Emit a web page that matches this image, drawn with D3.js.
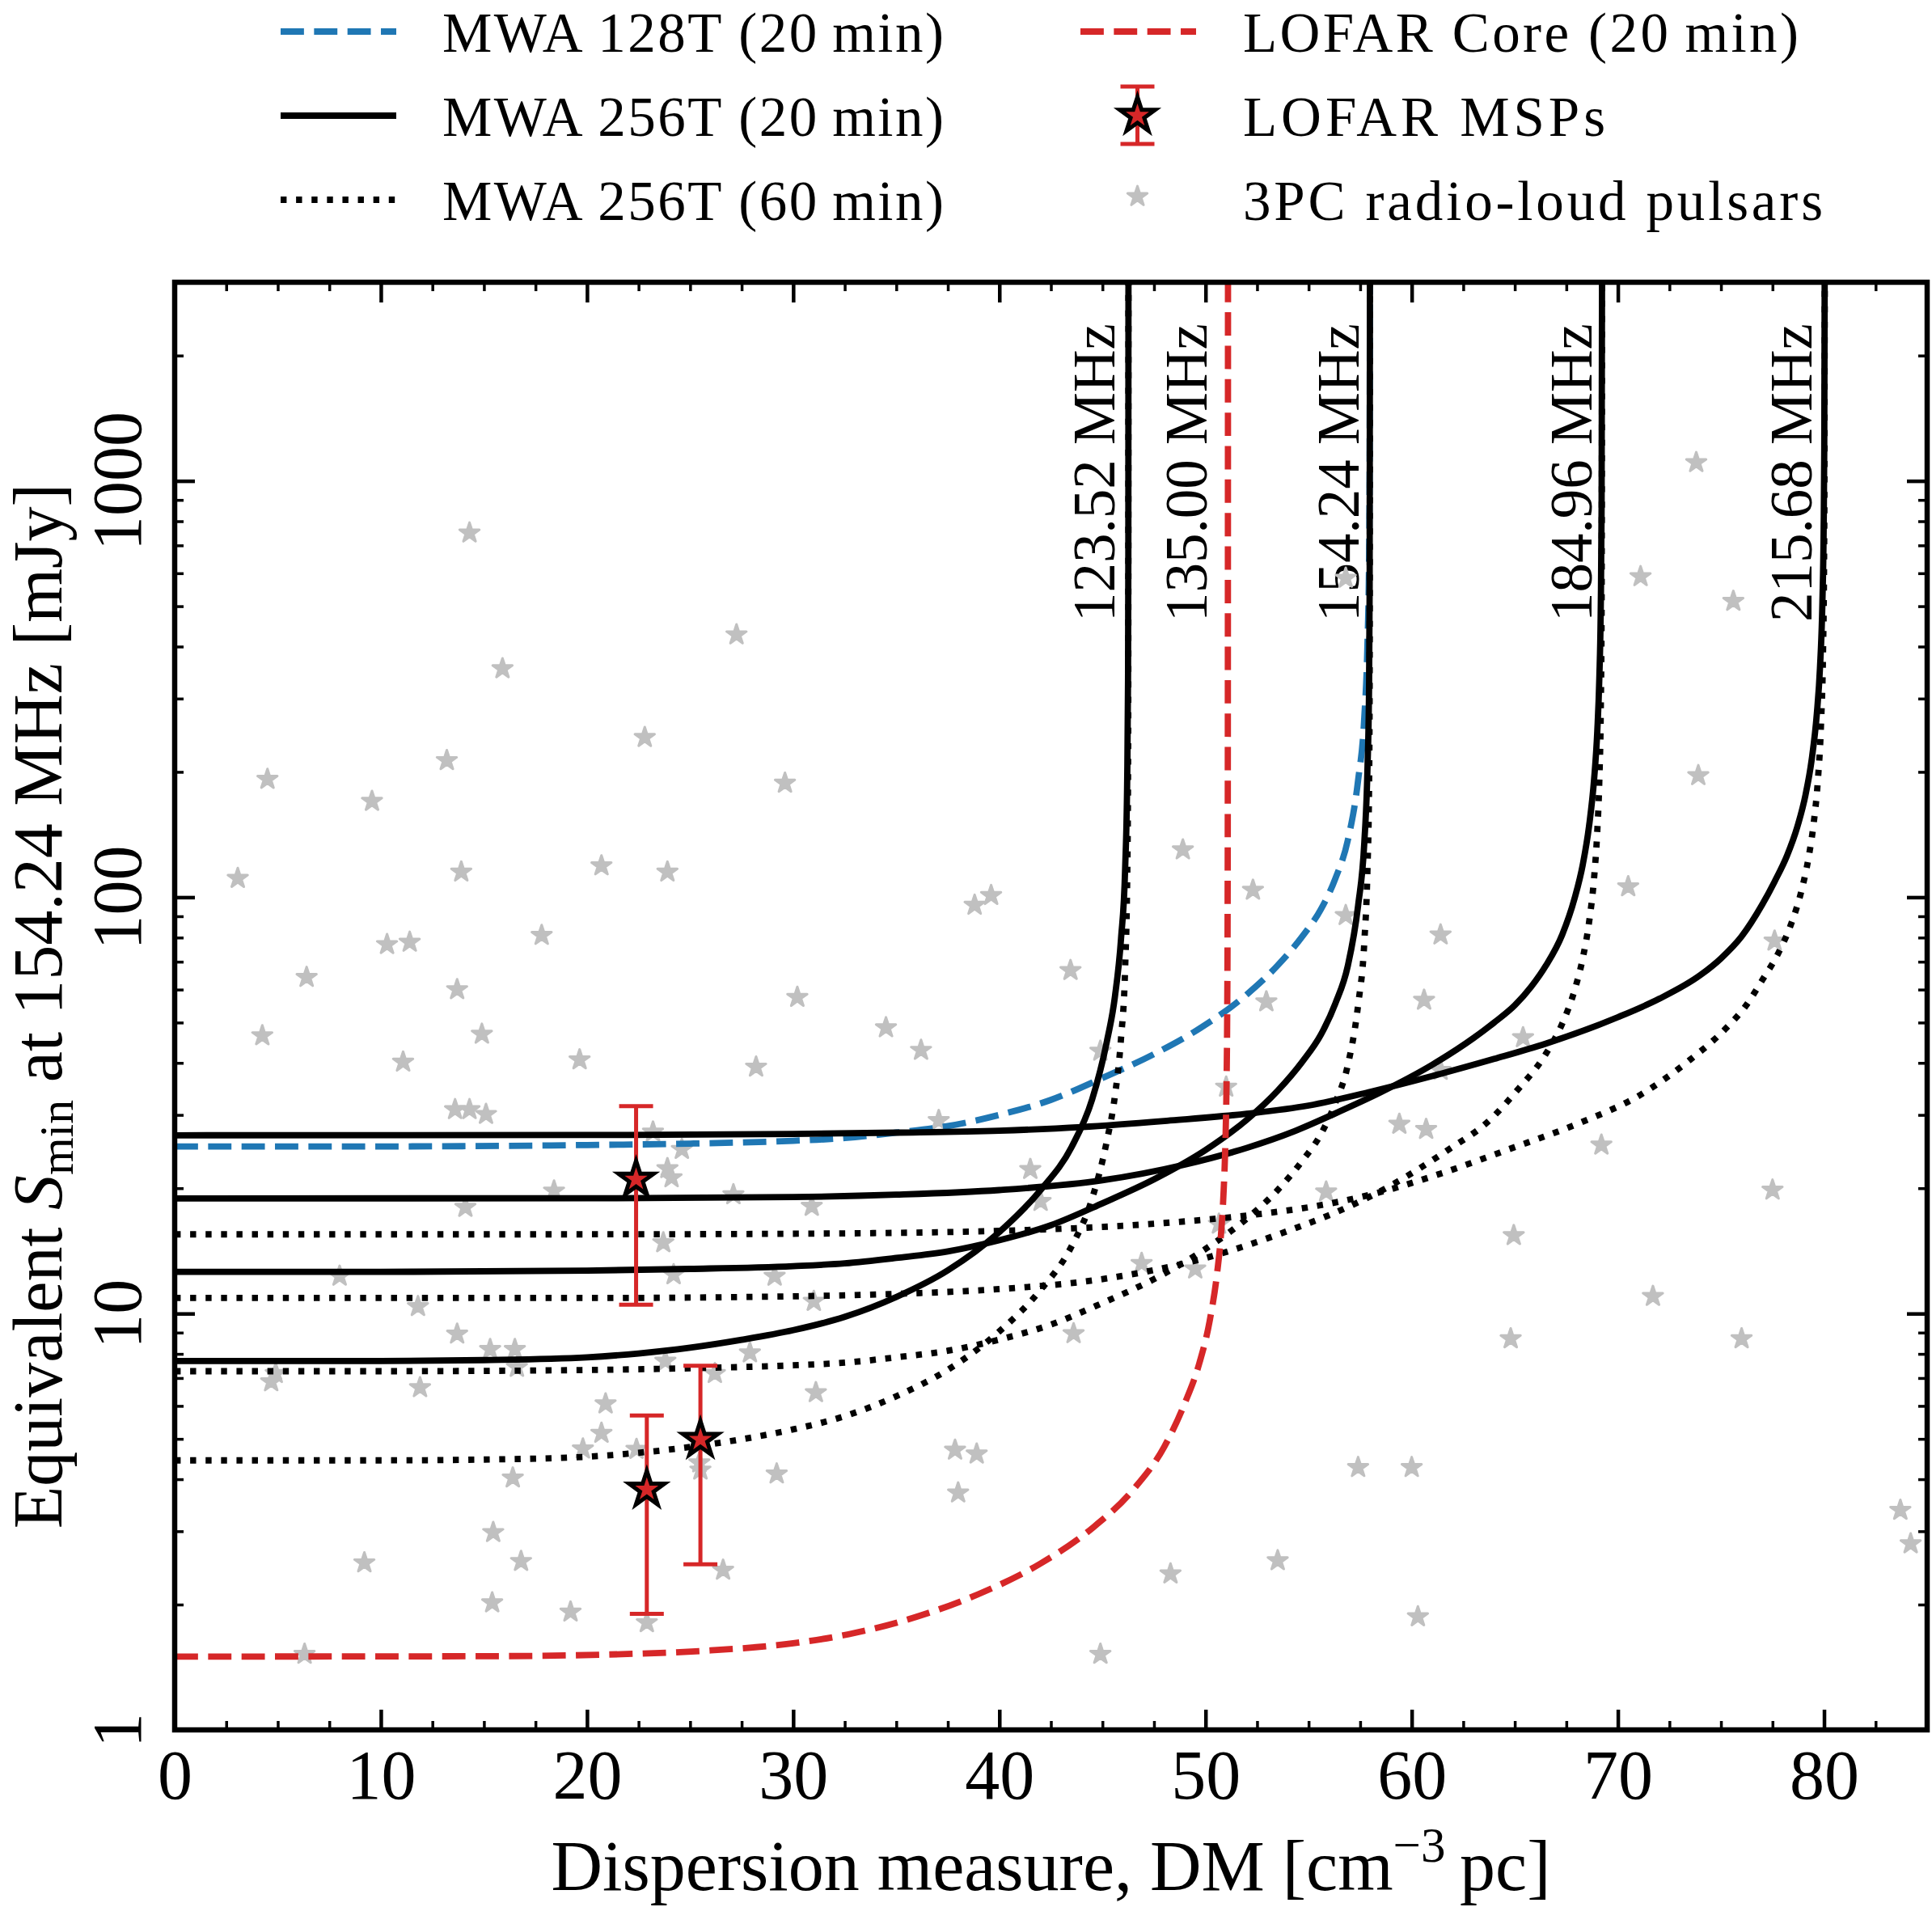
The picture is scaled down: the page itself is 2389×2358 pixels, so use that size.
<!DOCTYPE html>
<html><head><meta charset="utf-8">
<script src="https://cdn.jsdelivr.net/npm/d3@7"></script>
<style>
html,body{margin:0;padding:0;background:#fff;}
svg{display:block;}
</style></head><body>
<svg id="chart" width="2389" height="2358"></svg>
<script>
// ---------------- DATA ----------------
const xTicks = [0, 10, 20, 30, 40, 50, 60, 70, 80];
const yTicks = [1, 10, 100, 1000];
const freqLabels = ["123.52 MHz", "135.00 MHz", "154.24 MHz", "184.96 MHz", "215.68 MHz"];
const legendLabels = ["MWA 128T (20\u2009min)", "MWA 256T (20\u2009min)", "MWA 256T (60\u2009min)",
                      "LOFAR Core (20\u2009min)", "LOFAR MSPs", "3PC radio-loud pulsars"];

// 123.52 MHz (MWA 256T)
const dm123   = [0, 10, 15, 20, 22.5, 25, 27.5, 30, 32.5, 35, 37.5, 40, 42, 43.5, 44.5, 45.2, 45.6, 45.9, 46.1, 46.2, 46.24, 46.255, 46.262];
const s20_123 = [7.69, 7.69, 7.73, 7.85, 8.02, 8.28, 8.65, 9.12, 9.82, 10.96, 12.7, 15.7, 19.8, 25.1, 32.7, 44.7, 57.5, 79.4, 117, 192, 331, 661, 3981];
const s60_123 = [4.44, 4.44, 4.46, 4.53, 4.63, 4.78, 4.99, 5.27, 5.67, 6.33, 7.33, 9.06, 11.4, 14.5, 18.9, 25.8, 33.2, 45.8, 67.6, 111, 191, 382, 3981];

// 154.24 MHz (MWA 256T and MWA 128T)
const dm154   = [0, 10, 20, 25, 30, 32.5, 35, 37.5, 40, 42.5, 45, 47.5, 50, 52, 53.5, 54.7, 55.6, 56.3, 56.9, 57.4, 57.7, 57.85, 57.93, 57.96, 57.975];
const s20_154 = [12.6, 12.6, 12.68, 12.8, 13.0, 13.2, 13.6, 14.1, 15.0, 16.3, 18.4, 21.0, 24.7, 29.2, 34.3, 40.3, 46.8, 55.6, 68.4, 95.5, 135, 200, 316, 562, 3981];
const s60_154 = [7.27, 7.27, 7.32, 7.39, 7.51, 7.62, 7.85, 8.14, 8.66, 9.41, 10.6, 12.1, 14.3, 16.9, 19.8, 23.3, 27.0, 32.1, 39.5, 55.1, 77.9, 115, 182, 324, 3981];
const s20_154_128T = [25.2, 25.2, 25.4, 25.6, 26.0, 26.4, 27.2, 28.2, 30.0, 32.6, 36.8, 42.0, 49.4, 58.4, 68.6, 80.6, 93.6, 111, 137, 191, 270, 400, 632, 1124, 3981];

// 184.96 MHz (MWA 256T)
const dm185   = [0, 20, 30, 35, 40, 45, 49, 52, 54.3, 56.2, 58.5, 61, 63, 64, 65, 65.8, 66.5, 67.3, 67.9, 68.3, 68.6, 68.85, 69.0, 69.1, 69.17, 69.21, 69.235];
const s20_185 = [18.9, 18.92, 19.05, 19.3, 19.8, 20.9, 22.8, 25.0, 27.4, 30.1, 34.0, 39.6, 45.9, 50.0, 55.0, 61.0, 68.4, 81.3, 99.4, 120, 148, 193, 250, 336, 500, 866, 3981];
const dm185d  = [0, 20, 30, 35, 40, 45, 50, 54.3, 56.2, 58.5, 61.8, 63.7, 65.1, 66.5, 67.3, 67.9, 68.3, 68.6, 68.85, 69.0, 69.1, 69.17, 69.21, 69.235];
const s60_185 = [10.9, 10.9, 11.0, 11.15, 11.45, 12.1, 13.6, 16.0, 17.4, 19.7, 24.8, 28.9, 34.3, 42.0, 49.7, 59.8, 71.5, 86.9, 112, 144, 191, 282, 488, 3981];

// 215.68 MHz (MWA 256T)
const dm216   = [0, 20, 30, 35, 40, 44, 48, 52, 55, 58, 61, 64, 66.5, 70, 72, 74, 75, 76, 77, 77.6, 78.2, 78.7, 79.1, 79.4, 79.65, 79.8, 79.92, 79.98, 80.01, 80.025, 80.035];
const s20_216 = [26.8, 26.85, 27.0, 27.2, 27.5, 28.05, 29.0, 30.2, 31.6, 34.1, 37.2, 40.9, 44.5, 51.5, 57.0, 65.0, 71.3, 80.5, 96.0, 109, 125.7, 147.4, 176, 214, 276, 354, 513, 760, 1202, 2404, 3981];
const dm216d  = [0, 20, 30, 40, 48, 52, 55, 58, 61.3, 64.7, 68.3, 70.9, 73.5, 75.2, 76.2, 77.0, 77.8, 78.4, 78.9, 79.25, 79.5, 79.7, 79.85, 79.95, 80.0, 80.02, 80.035];
const s60_216 = [15.5, 15.5, 15.55, 15.8, 16.5, 17.2, 18.0, 19.3, 21.6, 24.8, 28.9, 33.1, 40.7, 48.2, 54.8, 63.2, 73.7, 86.2, 103.5, 124.6, 151, 191, 259, 389, 635, 1100, 3981];

// LOFAR Core 135.00 MHz
const dmLofar = [0, 15, 21, 26, 30, 33, 36, 39, 42, 44.5, 46.5, 48, 49, 49.7, 50.2, 50.56, 50.75, 50.88, 50.97, 51.02, 51.05, 51.07, 51.08, 51.09];
const sLofar  = [1.50, 1.503, 1.517, 1.552, 1.614, 1.71, 1.87, 2.12, 2.51, 3.05, 3.78, 4.79, 6.1, 7.6, 9.6, 12.5, 15.5, 19.8, 26.5, 36, 52, 90, 200, 3981];

// LOFAR MSPs
const mspDM = [22.38, 22.9, 25.5];
const mspS  = [21.0, 3.78, 4.98];
const mspLo = [10.5, 1.90, 2.50];
const mspHi = [31.5, 5.69, 7.49];

// 3PC radio-loud pulsars
const psrDM = [73.8, 14.3, 27.25, 71.1, 75.6, 15.9, 22.8, 13.2, 4.5, 29.6, 73.9, 9.57, 48.9, 3.06, 20.7, 23.9, 13.9, 52.3, 39.6, 38.8,
  70.5, 56.8, 10.3, 11.4, 17.8, 6.4, 43.45, 77.6, 13.7, 30.2, 60.6, 4.25, 14.9, 34.5, 11.08, 36.2, 19.64, 28.2, 44.9, 65.4,
  69.2, 13.6, 14.3, 15.1, 51.0, 37.06, 23.2, 59.4, 60.7, 52.95, 41.5, 23.9, 18.4, 27.1, 55.85, 77.5, 14.1, 30.9, 24.6, 42.0,
  23.7, 64.95, 8.0, 24.2, 29.1, 11.8, 31.0, 46.9, 49.5, 71.7, 50.65, 13.7, 15.3, 16.5, 16.6, 4.68, 4.9, 26.2, 27.9, 23.8,
  43.6, 64.8, 76.0, 11.9, 20.9, 20.7, 19.8, 22.4, 16.4, 25.45, 25.5, 29.2, 15.45, 9.2, 16.8, 15.4, 19.2, 22.9, 26.6, 6.3,
  44.9, 48.3, 53.5, 60.3, 57.4, 60.0, 37.85, 38.9, 38.0, 31.1, 83.7, 84.2, 61.4, 61.4, 56.8, 24.1];
const psrS = [1107, 750, 427, 589, 514, 354, 242, 213, 192, 188, 196, 170, 130, 111, 119, 115, 115, 104, 101, 95.7,
  106, 90.4, 77, 78, 81, 64.2, 66.7, 78.5, 60, 57.5, 56.6, 46.5, 46.9, 48.6, 40.2, 42.9, 40.7, 39.1, 42.7, 46.0,
  25.4, 30.9, 30.9, 30.1, 35.0, 29.1, 27.3, 28.5, 27.7, 56.1, 22.2, 22.3, 19.7, 19.3, 19.6, 19.8, 18.0, 18.1, 24.8, 18.6,
  14.8, 15.4, 12.3, 12.4, 12.3, 10.4, 10.7, 13.2, 12.8, 11.0, 16.4, 8.93, 8.2, 8.2, 7.43, 6.86, 7.18, 7.18, 8.05, 7.69,
  8.95, 8.7, 8.7, 6.64, 6.07, 5.16, 4.73, 4.72, 4.03, 4.38, 4.21, 4.12, 2.98, 2.52, 2.54, 2.02, 1.92, 1.81, 2.42, 1.52,
  1.52, 2.37, 2.55, 1.87, 4.27, 4.27, 4.70, 4.60, 3.71, 6.46, 3.37, 2.80, 81.2, 38.4, 584, 21.2];

// ---------------- CHART ----------------
const FONT = '"Liberation Serif","Times New Roman",serif';
const BLUE = "#1f77b4", RED = "#d62728", GREY = "#c0c0c0";
const M = {left: 216, top: 349, right: 2383, bottom: 2139};
const LW = 7.8;

const x = d3.scaleLinear().domain([0, 85]).range([M.left, M.right]);
const y = d3.scaleLog().domain([1, 3000]).range([M.bottom, M.top]);

const svg = d3.select("#chart").attr("font-family", FONT);
svg.append("rect").attr("width", 2389).attr("height", 2358).attr("fill", "#fff");
svg.append("defs").append("clipPath").attr("id", "clip").append("rect")
  .attr("x", M.left).attr("y", M.top).attr("width", M.right - M.left).attr("height", M.bottom - M.top);

// frequency labels (behind markers)
const labelCurves = [dm123, dmLofar, dm154, dm185, dm216];
const labelOff = [-17, -26, -14, -13, -16];
svg.append("g").selectAll("text").data(freqLabels).join("text")
  .attr("transform", (d, i) => `translate(${x(labelCurves[i][labelCurves[i].length - 1]) + labelOff[i]},${M.top + 51}) rotate(-90)`)
  .attr("text-anchor", "end").attr("font-size", 73).attr("fill", "#000").text(d => d);

const plot = svg.append("g").attr("clip-path", "url(#clip)");

// grey pulsars
const starGrey = d3.symbol(d3.symbolStar, 185);
plot.append("g").selectAll("path").data(psrDM).join("path")
  .attr("d", starGrey)
  .attr("transform", (d, i) => `translate(${x(d)},${y(psrS[i])})`)
  .attr("fill", GREY).attr("stroke", GREY).attr("stroke-width", 3).attr("stroke-linejoin", "round");

const line = d3.line().x(d => x(d[0])).y(d => y(d[1])).curve(d3.curveMonotoneX);
function curve(dm, s, color, dash) {
  plot.append("path").datum(dm.map((d, i) => [d, s[i]]))
    .attr("d", line).attr("fill", "none").attr("stroke", color)
    .attr("stroke-width", LW).attr("stroke-dasharray", dash).attr("stroke-linecap", "butt")
    .attr("stroke-linejoin", "round");
}
const DASHED = `${3.7 * LW} ${1.6 * LW}`;
const DOTTED = `${0.95 * LW} ${1.5 * LW}`;
curve(dm154, s20_154_128T, BLUE, DASHED);
curve(dm123, s60_123, "#000", DOTTED);
curve(dm154, s60_154, "#000", DOTTED);
curve(dm185d, s60_185, "#000", DOTTED);
curve(dm216d, s60_216, "#000", DOTTED);
curve(dm123, s20_123, "#000", null);
curve(dm154, s20_154, "#000", null);
curve(dm185, s20_185, "#000", null);
curve(dm216, s20_216, "#000", null);
curve(dmLofar, sLofar, RED, DASHED);

// LOFAR MSPs
const starRed = d3.symbol(d3.symbolStar, 600);
const msp = plot.append("g");
mspDM.forEach((d, i) => {
  const cx = x(d);
  msp.append("line").attr("x1", cx).attr("x2", cx).attr("y1", y(mspLo[i])).attr("y2", y(mspHi[i]))
    .attr("stroke", RED).attr("stroke-width", 5);
  [mspLo[i], mspHi[i]].forEach(v => msp.append("line").attr("x1", cx - 21).attr("x2", cx + 21)
    .attr("y1", y(v)).attr("y2", y(v)).attr("stroke", RED).attr("stroke-width", 5));
  msp.append("path").attr("d", starRed).attr("transform", `translate(${cx},${y(mspS[i])})`)
    .attr("fill", RED).attr("stroke", "#000").attr("stroke-width", 5).attr("stroke-linejoin", "miter");
});

// axes
function styleTicks(g, w) {
  g.select(".domain").remove();
  g.selectAll(".tick line").attr("stroke", "#000").attr("stroke-width", w);
  g.selectAll("text").attr("font-size", 86).attr("font-family", FONT).attr("fill", "#000");
}
const xMinor = d3.range(2.5, 85.01, 2.5).filter(v => v % 10 !== 0);
const yMinor = [];
[1, 10, 100, 1000].forEach(dec => d3.range(2, 10).forEach(k => { if (dec * k <= 3000) yMinor.push(dec * k); }));

svg.append("g").attr("transform", `translate(0,${M.bottom})`)
  .call(d3.axisBottom(x).tickValues(xTicks).tickSize(-25).tickPadding(24).tickFormat(d3.format("d")))
  .call(g => styleTicks(g, 4.5));
svg.append("g").attr("transform", `translate(0,${M.bottom})`)
  .call(d3.axisBottom(x).tickValues(xMinor).tickSize(-11).tickFormat(""))
  .call(g => styleTicks(g, 3.5));
svg.append("g").attr("transform", `translate(0,${M.top})`)
  .call(d3.axisTop(x).tickValues(xTicks).tickSize(-25).tickFormat(""))
  .call(g => styleTicks(g, 4.5));
svg.append("g").attr("transform", `translate(0,${M.top})`)
  .call(d3.axisTop(x).tickValues(xMinor).tickSize(-11).tickFormat(""))
  .call(g => styleTicks(g, 3.5));

const yAxisG = svg.append("g").attr("transform", `translate(${M.left},0)`)
  .call(d3.axisLeft(y).tickValues(yTicks).tickSize(-25).tickFormat(d3.format("d")))
  .call(g => styleTicks(g, 4.5));
yAxisG.selectAll("text").attr("x", null).attr("dy", null).attr("y", null)
  .attr("text-anchor", "middle").attr("transform", "translate(-42,0) rotate(-90)");
svg.append("g").attr("transform", `translate(${M.left},0)`)
  .call(d3.axisLeft(y).tickValues(yMinor).tickSize(-11).tickFormat(""))
  .call(g => styleTicks(g, 3.5));
svg.append("g").attr("transform", `translate(${M.right},0)`)
  .call(d3.axisRight(y).tickValues(yTicks).tickSize(-25).tickFormat(""))
  .call(g => styleTicks(g, 4.5));
svg.append("g").attr("transform", `translate(${M.right},0)`)
  .call(d3.axisRight(y).tickValues(yMinor).tickSize(-11).tickFormat(""))
  .call(g => styleTicks(g, 3.5));

svg.append("rect").attr("x", M.left).attr("y", M.top).attr("width", M.right - M.left).attr("height", M.bottom - M.top)
  .attr("fill", "none").attr("stroke", "#000").attr("stroke-width", 6.5);

// axis labels
const xl = svg.append("text").attr("x", (M.left + M.right) / 2).attr("y", 2337)
  .attr("text-anchor", "middle").attr("font-size", 88).attr("fill", "#000");
xl.append("tspan").text("Dispersion measure, DM [cm");
xl.append("tspan").attr("font-size", 61).attr("dy", -35).text("\u22123");
xl.append("tspan").attr("dy", 35).text("\u2009pc]");

const yl = svg.append("text").attr("transform", `translate(76,${(M.top + M.bottom) / 2}) rotate(-90)`)
  .attr("text-anchor", "middle").attr("font-size", 86).attr("fill", "#000");
yl.append("tspan").text("Equivalent ");
yl.append("tspan").attr("font-style", "italic").text("S");
yl.append("tspan").attr("font-size", 60).attr("dy", 14).text("min");
yl.append("tspan").attr("dy", -14).text(" at 154.24 MHz [mJy]");

// legend
const leg = svg.append("g");
const col1 = {x1: 347, x2: 490, tx: 547}, col2 = {x1: 1336, x2: 1479, tx: 1537};
const rowsY = [39, 143, 247];
const legWidths = [620, 620, 620, 687, 448, 717];
function legLine(col, ry, color, dash) {
  leg.append("line").attr("x1", col.x1).attr("x2", col.x2).attr("y1", ry).attr("y2", ry)
    .attr("stroke", color).attr("stroke-width", LW).attr("stroke-dasharray", dash);
}
function legText(col, ry, i) {
  leg.append("text").attr("x", col.tx).attr("y", ry + 25).attr("font-size", 69).attr("fill", "#000")
    .attr("textLength", legWidths[i]).attr("lengthAdjust", "spacing").text(legendLabels[i]);
}
legLine(col1, rowsY[0], BLUE, DASHED); legText(col1, rowsY[0], 0);
legLine(col1, rowsY[1], "#000", null); legText(col1, rowsY[1], 1);
legLine(col1, rowsY[2], "#000", DOTTED); legText(col1, rowsY[2], 2);
legLine(col2, rowsY[0], RED, DASHED); legText(col2, rowsY[0], 3);
const lcx = (col2.x1 + col2.x2) / 2 - 1;
leg.append("line").attr("x1", lcx).attr("x2", lcx).attr("y1", rowsY[1] - 36).attr("y2", rowsY[1] + 35).attr("stroke", RED).attr("stroke-width", 5);
[rowsY[1] - 36, rowsY[1] + 35].forEach(v => leg.append("line").attr("x1", lcx - 21).attr("x2", lcx + 21).attr("y1", v).attr("y2", v)
  .attr("stroke", RED).attr("stroke-width", 5));
leg.append("path").attr("d", starRed).attr("transform", `translate(${lcx},${rowsY[1]})`)
  .attr("fill", RED).attr("stroke", "#000").attr("stroke-width", 5);
legText(col2, rowsY[1], 4);
leg.append("path").attr("d", starGrey).attr("transform", `translate(${lcx},${rowsY[2] - 4})`)
  .attr("fill", GREY).attr("stroke", GREY).attr("stroke-width", 3).attr("stroke-linejoin", "round");
legText(col2, rowsY[2], 5);
</script></body></html>
